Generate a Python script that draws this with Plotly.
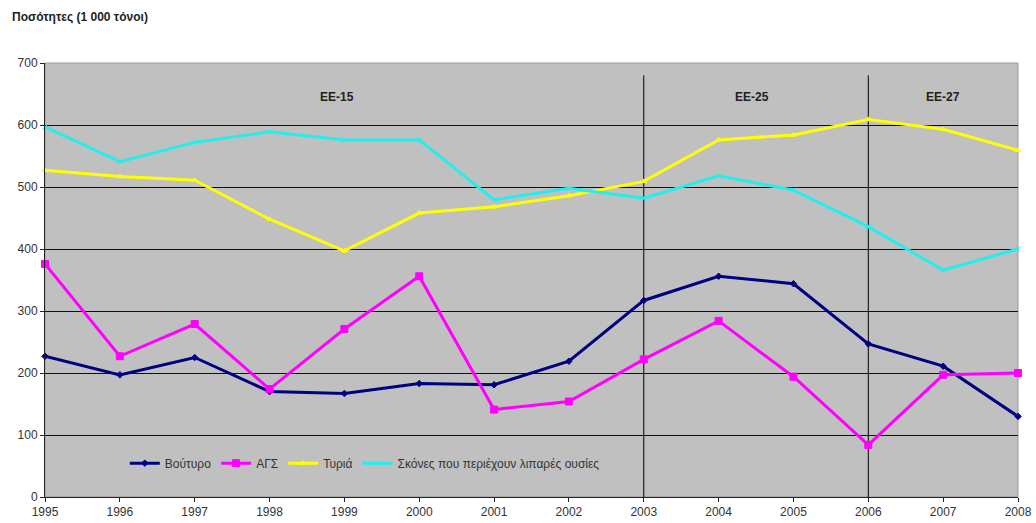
import plotly.graph_objects as go

# Years and quantities (thousand tonnes)
years = list(range(1995, 2009))
voutyro = [227, 197, 225, 170, 167, 183, 181, 219, 317, 356, 344, 247, 211, 130]
ags = [376, 227, 279, 174, 271, 356, 141, 154, 222, 284, 194, 84, 197, 200]
tyria = [527, 517, 511, 448, 397, 458, 468, 486, 509, 576, 584, 609, 593, 559]
skones = [597, 541, 572, 589, 576, 576, 479, 498, 482, 518, 495, 436, 366, 400]

series_names = ["Βούτυρο", "ΑΓΣ", "Τυριά", "Σκόνες που περιέχουν λιπαρές ουσίες"]

# EU enlargement periods
era_bounds = [2003, 2006]
era_labels = ["EE-15", "EE-25", "EE-27"]
era_label_x = [1998.9, 2004.45, 2007.0]

y_ticks = [0, 100, 200, 300, 400, 500, 600, 700]
grid_vals = [100, 200, 300, 400, 500, 600]

fig = go.Figure()

styles = [
    ("#000080", "diamond", 5),
    ("#FF00FF", "square", 7),
    ("#FFFF00", "triangle-up", 5),
    ("#22EEEE", "x-thin", 5),
]
for name, vals, (col, sym, ms) in zip(series_names, [voutyro, ags, tyria, skones], styles):
    fig.add_trace(go.Scatter(
        x=years, y=vals, name=name, mode="lines+markers",
        line=dict(color=col, width=3),
        marker=dict(color=col, symbol=sym, size=ms, line=dict(color=col, width=1)),
        cliponaxis=False,
    ))

for xb in era_bounds:
    fig.add_shape(type="line", xref="x", yref="y", x0=xb, x1=xb, y0=0, y1=680,
                  line=dict(color="black", width=1), layer="below")

for lbl, xl in zip(era_labels, era_label_x):
    fig.add_annotation(x=xl, y=645, xref="x", yref="y", text=f"<b>{lbl}</b>",
                       showarrow=False, font=dict(size=12, color="#222222"))

# Plot-area border (top/right)
fig.add_shape(type="rect", xref="paper", yref="paper", x0=0, x1=1, y0=0, y1=1,
              line=dict(color="#999999", width=1), layer="below")

# Unit title above the plot
fig.add_annotation(x=-35 / 973, y=1 + (63 - 17) / 434, xref="paper", yref="paper",
                   xanchor="left", yanchor="middle", showarrow=False,
                   text="<b>Ποσότητες (1 000 τόνοι)</b>",
                   font=dict(size=12, color="#222222"))

fig.update_layout(
    width=1036, height=523,
    margin=dict(l=45, r=18, t=63, b=26, autoexpand=False),
    paper_bgcolor="white",
    plot_bgcolor="#C0C0C0",
    font=dict(family="Liberation Sans, Arial, sans-serif", size=12, color="#333333"),
    showlegend=True,
    legend=dict(orientation="h", x=0.082, y=0.078, xanchor="left", yanchor="middle",
                bgcolor="rgba(0,0,0,0)", font=dict(size=12, color="#333333"),
                itemwidth=30, tracegroupgap=0),
    xaxis=dict(range=[1995, 2008], tickvals=years, ticktext=[str(y) for y in years],
               automargin=False,
               showgrid=False, zeroline=False, showline=True, linecolor="#222222", linewidth=1,
               ticks="outside", ticklen=4, tickcolor="#222222", tickfont=dict(size=12)),
    yaxis=dict(range=[0, 700], tickvals=y_ticks, showgrid=False, zeroline=False,
               automargin=False,
               showline=True, linecolor="#222222", linewidth=1,
               ticks="outside", ticklen=4, tickcolor="#222222", tickfont=dict(size=12),
               minor=dict(tickvals=grid_vals, showgrid=True, gridcolor="#111111", gridwidth=1,
                          ticks="")),
)

fig.write_html("out.html")
